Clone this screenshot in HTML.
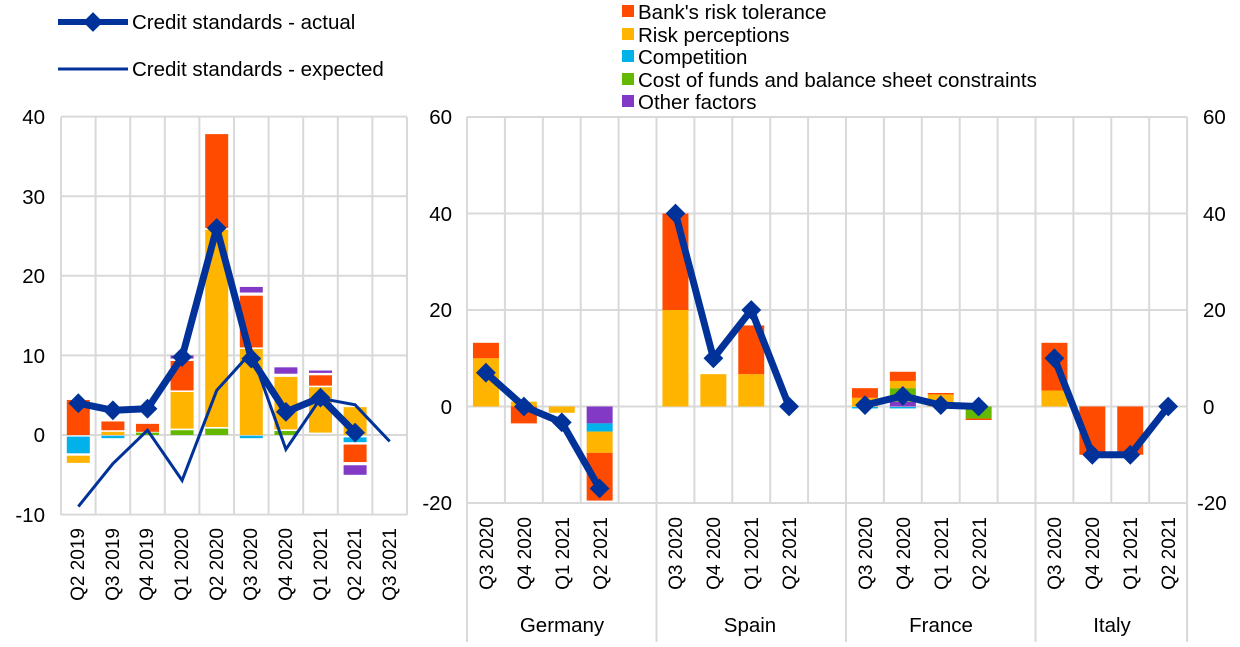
<!DOCTYPE html>
<html><head><meta charset="utf-8"><style>
body{margin:0;background:#fff;width:1240px;height:642px;overflow:hidden}
svg{font-family:"Liberation Sans",Arial,sans-serif}
</style></head><body>
<svg id="s" width="1240" height="642" xmlns="http://www.w3.org/2000/svg">
<g id="grid" stroke="#d9d9d9" stroke-width="2" fill="none"></g>
<g id="bars"></g>
<g id="lines"></g>
<g font-size="20.5" fill="#000">
<text x="45" y="124" text-anchor="end">40</text>
<text x="45" y="204" text-anchor="end">30</text>
<text x="45" y="283" text-anchor="end">20</text>
<text x="45" y="363" text-anchor="end">10</text>
<text x="45" y="442" text-anchor="end">0</text>
<text x="45" y="522" text-anchor="end">-10</text>
<text x="452" y="124" text-anchor="end">60</text>
<text x="452" y="221" text-anchor="end">40</text>
<text x="452" y="317" text-anchor="end">20</text>
<text x="452" y="414" text-anchor="end">0</text>
<text x="452" y="510" text-anchor="end">-20</text>
<text x="1203" y="124">60</text>
<text x="1203" y="221">40</text>
<text x="1203" y="317">20</text>
<text x="1203" y="414">0</text>
<text x="1197" y="510">-20</text>
</g>
<g font-size="19" fill="#000">
<text text-anchor="end" transform="translate(84,528) rotate(-90)">Q2 2019</text>
<text text-anchor="end" transform="translate(119,528) rotate(-90)">Q3 2019</text>
<text text-anchor="end" transform="translate(153,528) rotate(-90)">Q4 2019</text>
<text text-anchor="end" transform="translate(188,528) rotate(-90)">Q1 2020</text>
<text text-anchor="end" transform="translate(223,528) rotate(-90)">Q2 2020</text>
<text text-anchor="end" transform="translate(257,528) rotate(-90)">Q3 2020</text>
<text text-anchor="end" transform="translate(292,528) rotate(-90)">Q4 2020</text>
<text text-anchor="end" transform="translate(327,528) rotate(-90)">Q1 2021</text>
<text text-anchor="end" transform="translate(361,528) rotate(-90)">Q2 2021</text>
<text text-anchor="end" transform="translate(396,528) rotate(-90)">Q3 2021</text>
</g>
<g font-size="20.5" fill="#000" text-anchor="middle">
<text x="562" y="632">Germany</text>
<text x="750" y="632">Spain</text>
<text x="941" y="632">France</text>
<text x="1112" y="632">Italy</text>
</g>
<g font-size="20.5" fill="#000">
<line x1="58" y1="22" x2="128" y2="22" stroke="#003299" stroke-width="6"/>
<rect x="86" y="15" width="14" height="14" fill="#003299" transform="rotate(45 93 22)"/>
<text x="132" y="29">Credit standards - actual</text>
<line x1="58" y1="69" x2="128" y2="69" stroke="#003299" stroke-width="3"/>
<text x="132" y="76">Credit standards - expected</text>
<rect x="622" y="5" width="12" height="12" fill="#FF4B00"/><text x="638" y="19">Bank's risk tolerance</text>
<rect x="622" y="28" width="12" height="12" fill="#FFB400"/><text x="638" y="42">Risk perceptions</text>
<rect x="622" y="50" width="12" height="12" fill="#00B1EA"/><text x="638" y="64">Competition</text>
<rect x="622" y="73" width="12" height="12" fill="#65B800"/><text x="638" y="87">Cost of funds and balance sheet constraints</text>
<rect x="622" y="95" width="12" height="12" fill="#8139C6"/><text x="638" y="109">Other factors</text>
</g>
<g font-size="19" fill="#000">
<text text-anchor="end" transform="translate(493,517) rotate(-90)">Q3 2020</text>
<text text-anchor="end" transform="translate(531,517) rotate(-90)">Q4 2020</text>
<text text-anchor="end" transform="translate(569,517) rotate(-90)">Q1 2021</text>
<text text-anchor="end" transform="translate(607,517) rotate(-90)">Q2 2021</text>
<text text-anchor="end" transform="translate(682,517) rotate(-90)">Q3 2020</text>
<text text-anchor="end" transform="translate(720,517) rotate(-90)">Q4 2020</text>
<text text-anchor="end" transform="translate(758,517) rotate(-90)">Q1 2021</text>
<text text-anchor="end" transform="translate(796,517) rotate(-90)">Q2 2021</text>
<text text-anchor="end" transform="translate(872,517) rotate(-90)">Q3 2020</text>
<text text-anchor="end" transform="translate(910,517) rotate(-90)">Q4 2020</text>
<text text-anchor="end" transform="translate(948,517) rotate(-90)">Q1 2021</text>
<text text-anchor="end" transform="translate(986,517) rotate(-90)">Q2 2021</text>
<text text-anchor="end" transform="translate(1061,517) rotate(-90)">Q3 2020</text>
<text text-anchor="end" transform="translate(1099,517) rotate(-90)">Q4 2020</text>
<text text-anchor="end" transform="translate(1137,517) rotate(-90)">Q1 2021</text>
<text text-anchor="end" transform="translate(1175,517) rotate(-90)">Q2 2021</text>
</g>
</svg>
<script>
const R="#FF4B00",Y="#FFB400",C="#00B1EA",G="#65B800",P="#8139C6",N="#003299";
const ns="http://www.w3.org/2000/svg";
function el(p,t,a){const e=document.createElementNS(ns,t);for(const k in a)e.setAttribute(k,a[k]);document.getElementById(p).appendChild(e);return e;}
const L0=61,LW=34.6,LZ=435,LS=7.96;
for(let i=0;i<=10;i++)el("grid","line",{x1:L0+i*LW,y1:117,x2:L0+i*LW,y2:515});
for(let v=-10;v<=40;v+=10)el("grid","line",{x1:L0,y1:LZ-v*LS,x2:L0+10*LW,y2:LZ-v*LS});
const lb=[
[[R,0,4.4],[C,-0.2,-2.3],[Y,-2.6,-3.5]],
[[Y,0,0.4],[R,0.6,1.7],[C,-0.1,-0.4]],
[[G,0,0.3],[R,0.4,1.4]],
[[G,0,0.6],[Y,0.8,5.4],[R,5.6,9.3],[P,9.6,10]],
[[G,0,0.8],[Y,1,25.8],[R,26,37.8]],
[[C,-0.1,-0.4],[Y,0,10.8],[R,11,17.5],[P,17.9,18.6]],
[[G,0,0.5],[Y,0.7,7.3],[P,7.7,8.5]],
[[Y,0.3,6],[R,6.2,7.5],[P,7.8,8.1]],
[[Y,0,3.5],[C,-0.3,-0.9],[R,-1.2,-3.4],[P,-3.8,-5]]];
lb.forEach((b,i)=>b.forEach(([c,a,z])=>{const cx=L0+(i+0.5)*LW;el("bars","rect",{x:cx-11.5,y:LZ-Math.max(a,z)*LS,width:23,height:Math.abs(z-a)*LS,fill:c});}));
const act=[4,3.1,3.3,9.8,26,9.6,2.9,4.7,0.3],exp=[-9,-3.6,0.6,-5.7,5.6,10.4,-1.8,4.6,3.8,-0.8];
const pts=(arr,o,w,z,s)=>arr.map((v,i)=>[(o+(i+0.5)*w).toFixed(1),(z-v*s).toFixed(1)]);
el("lines","polyline",{points:pts(exp,L0,LW,LZ,LS).join(" "),fill:"none",stroke:N,"stroke-width":3});
function thick(p){el("lines","polyline",{points:p.join(" "),fill:"none",stroke:N,"stroke-width":7,"stroke-linejoin":"round"});p.forEach(([x,y])=>el("lines","rect",{x:x-7,y:y-7,width:14,height:14,fill:N,transform:`rotate(45 ${x} ${y})`}));}
thick(pts(act,L0,LW,LZ,LS));
const R0=467,RW=37.9,RZ=406.5,RS=4.825;
for(let i=0;i<=19;i++){const x=R0+i*RW;const sep=(i%5==0)||i==19;el("grid","line",{x1:x,y1:117,x2:x,y2:sep?642:503});}
for(let v=-20;v<=60;v+=20)el("grid","line",{x1:R0,y1:RZ-v*RS,x2:R0+19*RW,y2:RZ-v*RS});
const groups=[
{s:0,b:[[[Y,0,10],[R,10,13.2]],[[Y,0,1],[R,0,-3.5]],[[Y,0,-1.3]],[[P,0,-3.5],[C,-3.5,-5.2],[Y,-5.2,-9.6],[R,-9.6,-19.5]]],a:[7,0,-3.3,-17]},
{s:5,b:[[[Y,0,20],[R,20,40]],[[Y,0,6.7]],[[Y,0,6.7],[R,6.7,16.8]],[]],a:[40,10,20,0]},
{s:10,b:[[[C,-0.1,-0.4],[Y,0,1.8],[R,1.8,3.8]],[[C,-0.1,-0.4],[P,0,1],[G,1,3.8],[Y,3.8,5.3],[R,5.3,7.2]],[[Y,0,2.5],[R,2.5,2.8]],[[G,0,-2.5],[R,-2.5,-2.8]]],a:[0.3,2.2,0.3,0]},
{s:15,b:[[[Y,0,3.3],[R,3.3,13.2]],[[R,0,-10]],[[R,0,-10]],[]],a:[10,-10,-10,0]}];
groups.forEach(g=>{
 g.b.forEach((b,i)=>b.forEach(([c,a,z])=>{const cx=R0+(g.s+i+0.5)*RW;el("bars","rect",{x:cx-13,y:RZ-Math.max(a,z)*RS,width:26,height:Math.abs(z-a)*RS,fill:c});}));
 thick(g.a.map((v,i)=>[(R0+(g.s+i+0.5)*RW).toFixed(1),(RZ-v*RS).toFixed(1)]));
});
</script>
</body></html>
